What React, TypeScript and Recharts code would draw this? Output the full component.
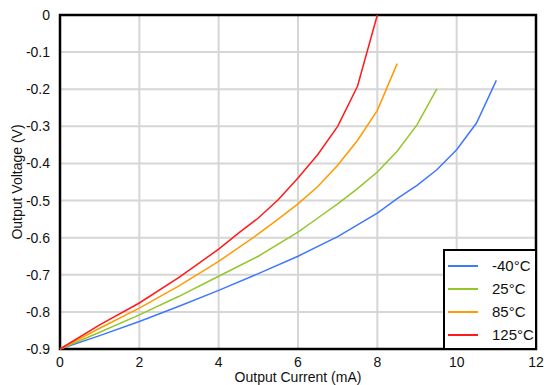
import { LineChart, Line, XAxis, YAxis, CartesianGrid, ReferenceArea } from 'recharts';

// output current (mA) / output voltage (V) per temperature
const currentM40 = [0, 1, 2, 3, 4, 5, 6, 7, 8, 8.5, 9, 9.5, 10, 10.5, 11];
const voltageM40 = [-0.9, -0.864, -0.826, -0.785, -0.742, -0.697, -0.65, -0.597, -0.534, -0.495, -0.459, -0.417, -0.363, -0.291, -0.176];

const current25 = [0, 1, 2, 3, 4, 5, 6, 6.5, 7, 7.5, 8, 8.5, 9, 9.5];
const voltage25 = [-0.9, -0.855, -0.808, -0.758, -0.704, -0.65, -0.585, -0.547, -0.509, -0.468, -0.423, -0.367, -0.296, -0.199];

const current85 = [0, 1, 2, 3, 4, 5, 5.5, 6, 6.5, 7, 7.5, 8, 8.5];
const voltage85 = [-0.9, -0.844, -0.79, -0.73, -0.664, -0.59, -0.55, -0.509, -0.462, -0.405, -0.338, -0.257, -0.131];

const current125 = [0, 1, 2, 3, 4, 4.5, 5, 5.5, 6, 6.5, 7, 7.5, 8];
const voltage125 = [-0.9, -0.835, -0.776, -0.707, -0.631, -0.588, -0.547, -0.498, -0.439, -0.376, -0.3, -0.192, 0];

const xTicks = [0, 2, 4, 6, 8, 10, 12];
const yTicks = [0, -0.1, -0.2, -0.3, -0.4, -0.5, -0.6, -0.7, -0.8, -0.9];

const toPoints = (xs: number[], ys: number[]) => xs.map((x, i) => ({ x, v: ys[i] }));

const series = [
  { name: '-40°C', color: '#3f77ff', data: toPoints(currentM40, voltageM40) },
  { name: '25°C', color: '#94c62a', data: toPoints(current25, voltage25) },
  { name: '85°C', color: '#ff9a00', data: toPoints(current85, voltage85) },
  { name: '125°C', color: '#ff1a1a', data: toPoints(current125, voltage125) },
];

const font = '"Liberation Sans", Arial, sans-serif';

function LegendBox() {
  return (
    <div
      style={{
        position: 'absolute',
        left: 443,
        top: 249,
        width: 94,
        height: 101,
        border: '2px solid #000',
        background: '#fff',
        fontFamily: font,
        fontSize: 15,
        color: '#111',
        boxSizing: 'border-box',
        paddingTop: 3,
      }}
    >
      {series.map((s) => (
        <div key={s.name} style={{ display: 'flex', alignItems: 'center', height: 23 }}>
          <div style={{ width: 30, height: 2, background: s.color, marginLeft: 3, marginRight: 14 }} />
          <span>{s.name}</span>
        </div>
      ))}
    </div>
  );
}

export default function App() {
  return (
    <div style={{ position: 'absolute', left: 0, top: 0, width: 544, height: 385, background: '#fff' }}>
      <LineChart width={544} height={385} margin={{ top: 15, right: 8, bottom: 0, left: 0 }}>
        <CartesianGrid stroke="#d6d6d6" strokeWidth={2} />
        <XAxis
          type="number"
          dataKey="x"
          domain={[0, 12]}
          ticks={xTicks}
          height={36}
          axisLine={false}
          tickLine={false}
          tickMargin={2}
          tick={{ fill: '#111', fontSize: 14, fontFamily: font }}
          label={{ value: 'Output Current (mA)', position: 'insideBottom', offset: 3, fill: '#111', fontSize: 14, fontFamily: font }}
          allowDuplicatedCategory={false}
        />
        <YAxis
          type="number"
          domain={[-0.9, 0]}
          ticks={yTicks}
          width={60}
          axisLine={false}
          tickLine={false}
          tickMargin={4}
          tickFormatter={(v: number) => (v === 0 ? '0' : v.toFixed(1))}
          tick={{ fill: '#111', fontSize: 14, fontFamily: font }}
          label={{ value: 'Output Voltage (V)', angle: -90, position: 'insideLeft', offset: 17, fill: '#111', fontSize: 14, fontFamily: font, style: { textAnchor: 'middle' } }}
        />
        {series.map((s) => (
          <Line
            key={s.name}
            data={s.data}
            dataKey="v"
            name={s.name}
            stroke={s.color}
            strokeWidth={1.5}
            dot={false}
            type="linear"
            isAnimationActive={false}
          />
        ))}
        <ReferenceArea x1={0} x2={12} y1={-0.9} y2={0} fill="none" stroke="#000" strokeWidth={2.5} ifOverflow="visible" />
      </LineChart>
      <LegendBox />
    </div>
  );
}
